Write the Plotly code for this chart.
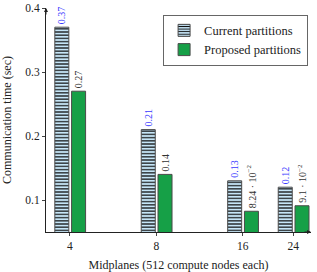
import numpy as np
import plotly.graph_objects as go

midplanes = [4, 8, 16, 24]
current = [0.37, 0.21, 0.13, 0.12]
proposed = [0.27, 0.14, 0.0824, 0.091]
current_labels = ["0.37", "0.21", "0.13", "0.12"]
proposed_labels = ["0.27", "0.14", "8.24 · 10<sup>−2</sup>", "9.1 · 10<sup>−2</sup>"]
tick_labels = ["4", "8", "16", "24"]

xpos = np.log2(midplanes)
FONT = "Liberation Serif"

fig = go.Figure()
fig.add_trace(go.Bar(
    x=xpos, y=current, name="Current partitions",
    width=0.162, offset=-0.174,
    marker=dict(color="#c6e6f8", line=dict(color="#4a4a4a", width=1),
                pattern=dict(shape="-", fgcolor="#111111", bgcolor="#c6e6f8",
                             size=3.2, solidity=0.38, fillmode="replace")),
    text=current_labels, textposition="outside", textangle=-90,
    constraintext="none", cliponaxis=False,
    outsidetextfont=dict(family=FONT, size=10, color="#3a3aff"),
))
fig.add_trace(go.Bar(
    x=xpos, y=proposed, name="Proposed partitions",
    width=0.162, offset=0.02,
    marker=dict(color="#16a047", line=dict(color="#4a4a4a", width=1)),
    text=proposed_labels, textposition="outside", textangle=-90,
    constraintext="none", cliponaxis=False,
    outsidetextfont=dict(family=FONT, size=10, color="#333333"),
))

fig.update_layout(
    width=317, height=272,
    margin=dict(l=46, r=6, t=8, b=40, autoexpand=False),
    plot_bgcolor="white", paper_bgcolor="white",
    font=dict(family=FONT, size=11, color="#222"),
    barmode="overlay",
    showlegend=True,
    legend=dict(x=0.989, y=0.97, xanchor="right", yanchor="top",
                bgcolor="white", bordercolor="#666", borderwidth=1,
                font=dict(family=FONT, size=12.5, color="#222"),
                tracegroupgap=0, itemwidth=30),
    xaxis=dict(range=[1.724, 4.79], tickvals=xpos, ticktext=tick_labels,
               showgrid=False, zeroline=False, showline=True,
               linecolor="#222", linewidth=1, ticks="outside", ticklen=3,
               tickcolor="#444", tickfont=dict(size=11.5), automargin=False,
               title=dict(text="Midplanes (512 compute nodes each)",
                          font=dict(size=12))),
    yaxis=dict(range=[0.05, 0.4], tickvals=[0.1, 0.2, 0.3, 0.4],
               ticktext=["0.1", "0.2", "0.3", "0.4"],
               showgrid=False, zeroline=False, showline=True,
               linecolor="#222", linewidth=1, ticks="outside", ticklen=3,
               tickcolor="#444", tickfont=dict(size=11.5), automargin=False,
               title=dict(text="Communication time (sec)",
                          font=dict(size=12))),
)

# axis arrowheads
fig.add_annotation(xref="paper", yref="paper", x=1.0, y=0, ax=-8, ay=0,
                   text="", showarrow=True, arrowhead=2, arrowsize=0.8,
                   arrowwidth=1, arrowcolor="#222")
fig.add_annotation(xref="paper", yref="paper", x=0, y=1.0, ax=0, ay=8,
                   text="", showarrow=True, arrowhead=2, arrowsize=0.8,
                   arrowwidth=1, arrowcolor="#222")

fig.write_html("out.html", config={"displayModeBar": False},
               post_script="document.body.style.margin='0';document.body.style.padding='0';")
